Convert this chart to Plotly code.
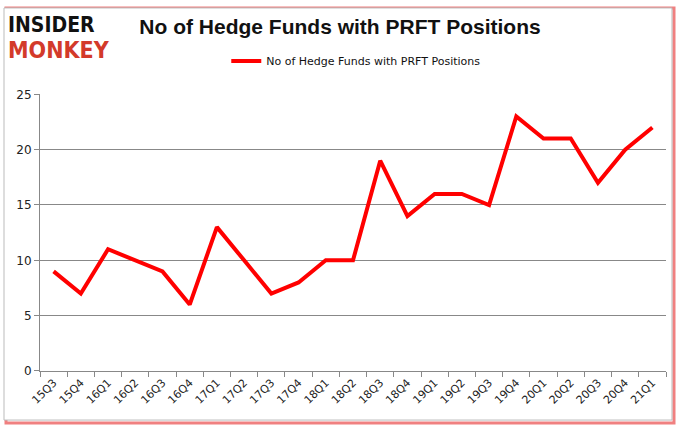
import plotly.graph_objects as go

quarters = ["15Q3","15Q4","16Q1","16Q2","16Q3","16Q4","17Q1","17Q2","17Q3","17Q4",
            "18Q1","18Q2","18Q3","18Q4","19Q1","19Q2","19Q3","19Q4","20Q1","20Q2",
            "20Q3","20Q4","21Q1"]
funds = [9,7,11,10,9,6,13,10,7,8,10,10,19,14,16,16,15,23,21,21,17,20,22]
y_ticks = [0,5,10,15,20,25]
series_name = "No of Hedge Funds with PRFT Positions"

W, H = 678, 431
L, R, T, B = 40, 12, 89, 60
PW, PH = W - L - R, H - T - B

def px(x):
    return (x - L) / PW

def py(y):
    return (H - B - y) / PH

fig = go.Figure()
fig.add_trace(go.Scatter(x=quarters, y=funds, mode="lines", name=series_name,
                         line=dict(color="#ff0000", width=4)))

fig.update_layout(
    width=W, height=H,
    margin=dict(l=L, r=R, t=T, b=B),
    paper_bgcolor="white", plot_bgcolor="white",
    font=dict(family="DejaVu Sans", size=11, color="#222"),
    showlegend=True,
    legend=dict(orientation="h", x=342 / W, xanchor="center", y=1 - 61 / H, yref="container",
                yanchor="middle", font=dict(size=11, color="#111"),
                bgcolor="rgba(0,0,0,0)"),
    title=dict(text="<b>No of Hedge Funds with PRFT Positions</b>", x=340 / W, xanchor="center",
               y=1 - 27 / H, yref="container", yanchor="middle",
               font=dict(family="Liberation Sans", size=21, color="#111")),
    xaxis=dict(type="category", range=[-0.5, len(quarters) - 0.5], tickangle=-45,
               showgrid=False, showline=True,
               linecolor="#888", linewidth=1, ticks="outside", tickcolor="#888",
               ticklen=5, tickson="boundaries", tickfont=dict(size=11)),
    yaxis=dict(range=[0, 25], tickvals=y_ticks, showgrid=True, gridcolor="#888",
               gridwidth=1, showline=True, linecolor="#888", ticks="outside",
               tickcolor="#888", ticklen=5, zeroline=False, tickfont=dict(size=12)),
)

fig.add_annotation(text="<b>INSIDER</b>", xref="paper", yref="paper",
                   x=px(6), y=py(18), xanchor="left", yanchor="middle",
                   showarrow=False, font=dict(family="DejaVu Sans Condensed", size=21, color="#111"))
fig.add_annotation(text="<b>MONKEY</b>", xref="paper", yref="paper",
                   x=px(6), y=py(44), xanchor="left", yanchor="middle",
                   showarrow=False, font=dict(family="DejaVu Sans Condensed", size=23, color="#d33a2a"))

# frame with red shadow
fig.add_shape(type="rect", xref="paper", yref="paper",
              x0=px(6), x1=px(674), y0=py(424), y1=py(1),
              line=dict(color="#f08080", width=3), fillcolor="rgba(0,0,0,0)", layer="below")
fig.add_shape(type="rect", xref="paper", yref="paper",
              x0=px(4), x1=px(672), y0=py(421), y1=py(1),
              line=dict(color="#bbbbbb", width=1), fillcolor="white", layer="below")

fig.write_html("out.html")
